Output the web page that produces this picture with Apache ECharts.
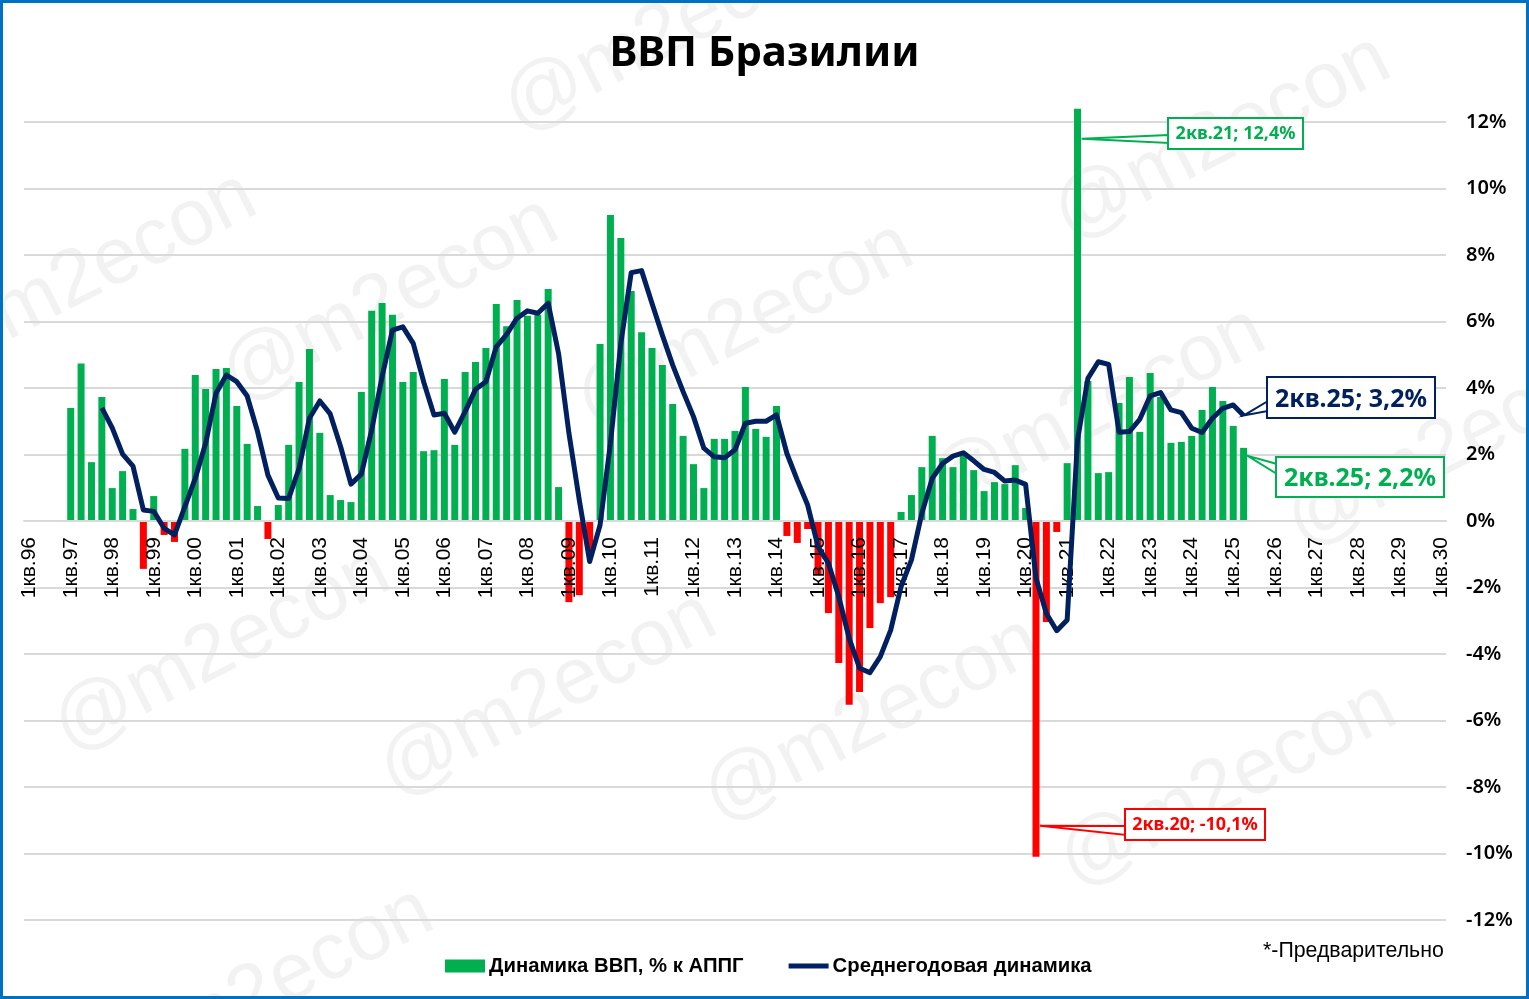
<!DOCTYPE html>
<html>
<head>
<meta charset="utf-8">
<style>
  html, body { margin: 0; padding: 0; background: #fff; }
  #chart { width: 1529px; height: 999px; }
</style>
<script src="https://cdn.jsdelivr.net/npm/echarts@6/dist/echarts.min.js"></script>
</head>
<body>
<div id="chart"></div>
<script>
// quarters 1кв.96 .. 1кв.30
var firstYear = 96;
var quarterCount = 137;
var categories = [];
for (var i = 0; i < quarterCount; i++) {
  var yy = (firstYear + Math.floor(i / 4)) % 100;
  categories.push((i % 4 + 1) + 'кв.' + (yy < 10 ? '0' + yy : yy));
}
var firstBarIndex = 4;   // 1кв.97
var firstLineIndex = 7;  // 4кв.97

var gdpYoY = [
  3.4, 4.74, 1.77, 3.73,
  0.99, 1.5, 0.36, -1.44,
  0.75, -0.42, -0.63, 2.17,
  4.39, 3.97, 4.57, 4.6,
  3.46, 2.32, 0.45, -0.54,
  0.48, 2.29, 4.18, 5.17,
  2.65, 0.78, 0.63, 0.57,
  3.88, 6.32, 6.56, 6.2,
  4.18, 4.48, 2.1, 2.13,
  4.27, 2.29, 4.48, 4.78,
  5.2, 6.53, 5.86, 6.65,
  6.17, 6.2, 6.98, 1.02,
  -2.44, -2.23, -0.9, 5.32,
  9.2, 8.51, 6.92, 5.68,
  5.2, 4.69, 3.52, 2.56,
  1.71, 0.99, 2.47, 2.47,
  2.71, 4.03, 2.77, 2.53,
  3.46, -0.45, -0.66, -0.24,
  -1.62, -2.77, -4.27, -5.53,
  -5.14, -3.22, -2.47, -2.29,
  0.27, 0.78, 1.62, 2.56,
  1.89, 1.62, 1.98, 1.53,
  0.9, 1.17, 1.11, 1.68,
  0.39, -10.1, -3.04, -0.33,
  1.74, 12.4, 4.21, 1.44,
  1.47, 3.55, 4.33, 2.68,
  4.45, 3.73, 2.35, 2.38,
  2.56, 3.34, 4.03, 3.61,
  2.86, 2.2
];

var gdpAvg = [
  3.4,
  2.8, 2.01, 1.65, 0.33,
  0.29, -0.22, -0.42, 0.43,
  1.28, 2.34, 3.84, 4.39,
  4.19, 3.76, 2.69, 1.38,
  0.69, 0.68, 1.58, 3.09,
  3.61, 3.22, 2.24, 1.11,
  1.41, 2.74, 4.34, 5.74,
  5.84, 5.34, 4.19, 3.19,
  3.24, 2.67, 3.29, 3.96,
  4.19, 5.24, 5.61, 6.1,
  6.32, 6.25, 6.55, 5.04,
  2.64, 0.63, -1.22, -0.12,
  2.34, 5.34, 7.47, 7.53,
  6.55, 5.59, 4.69, 3.89,
  3.14, 2.19, 1.93, 1.9,
  2.14, 2.94, 3.0, 3.0,
  3.19, 2.03, 1.23, 0.48,
  -0.77, -1.27, -2.28, -3.53,
  -4.43, -4.56, -4.08, -3.28,
  -1.97, -1.17, 0.23, 1.28,
  1.73, 1.95, 2.05, 1.81,
  1.55, 1.46, 1.2, 1.23,
  1.1, -1.72, -2.78, -3.3,
  -2.98, 2.44, 4.29, 4.79,
  4.71, 2.67, 2.69, 3.06,
  3.76, 3.86, 3.34, 3.26,
  2.79, 2.66, 3.09, 3.39,
  3.49, 3.17
];

// watermark centres on the sheet
var watermarks = [
  [672, 30], [88, 275], [1222, 138], [390, 300], [745, 325],
  [1097, 410], [1455, 445], [222, 650], [548, 695], [872, 720], [1228, 785], [265, 990]
];

var GREEN = '#00b050', RED = '#ff0000', NAVY = '#002060';
var barData = categories.map(function(c, i) {
  var v = gdpYoY[i - firstBarIndex];
  if (v === undefined) return null;
  return { value: v, itemStyle: { color: v < 0 ? RED : GREEN } };
});
var lineData = categories.map(function(c, i) {
  var v = gdpAvg[i - firstLineIndex];
  return v === undefined ? null : v;
});

var chart = echarts.init(document.getElementById('chart'), null, { renderer: 'canvas' });
var grid = { left: 24, right: 83, top: 122, bottom: 79 };

chart.setOption({
  animation: false,
  backgroundColor: '#ffffff',
  textStyle: { fontFamily: 'Liberation Sans' },
  title: {
    text: 'ВВП Бразилии',
    left: 'center',
    top: 28,
    textStyle: { fontFamily: 'Noto Sans', fontWeight: 'bold', fontSize: 42, color: '#000' }
  },
  legend: {
    left: 440,
    top: 951,
    itemGap: 45,
    itemWidth: 40,
    itemHeight: 13,
    textStyle: { fontFamily: 'Liberation Sans', fontWeight: 'bold', fontSize: 20.3, color: '#000', padding: [0, 0, 0, -1] },
    data: [
      { name: 'Динамика ВВП, % к АППГ', itemStyle: { color: GREEN }, icon: 'rect' },
      { name: 'Среднегодовая динамика', icon: 'path://M0 0 L40 0 L40 5 L0 5 Z', itemStyle: { color: NAVY } }
    ]
  },
  grid: grid,
  xAxis: {
    type: 'category',
    data: categories,
    offset: -399, // labels sit under the zero line
    z: 3,         // black labels stay readable over the red bars
    axisLine: { onZero: false, lineStyle: { color: '#d9d9d9', width: 2 } },
    axisTick: { show: false },
    splitLine: { show: false },
    axisLabel: { interval: 3, rotate: 90, margin: 16, fontSize: 21, color: '#000', fontFamily: 'Liberation Sans', padding: [3, 0, 0, 0] }
  },
  yAxis: {
    type: 'value',
    position: 'right',
    min: -12,
    max: 12,
    interval: 2,
    axisLine: { show: false },
    axisTick: { show: false },
    splitLine: { lineStyle: { color: '#d9d9d9', width: 2 } },
    axisLabel: { margin: 20, fontSize: 20, fontWeight: 600, fontFamily: 'Noto Sans', color: '#000', align: 'left', padding: [3, 0, 0, 0], formatter: '{value}%' }
  },
  series: [
    {
      name: 'Динамика ВВП, % к АППГ',
      type: 'bar',
      barWidth: 7,
      clip: false,
      itemStyle: { color: GREEN },
      data: barData
    },
    {
      name: 'Среднегодовая динамика',
      type: 'line',
      symbol: 'none',
      clip: false,
      connectNulls: false,
      lineStyle: { color: NAVY, width: 5, join: 'round' },
      data: lineData,
      z: 5
    }
  ]
});

// callout: wedge from a data point to the text box
function callout(index, value, tipDx, tipDy, box, wedge, text, color, fontSize) {
  var p = chart.convertToPixel({ seriesIndex: 0 }, [categories[index], value]);
  var tip = [p[0] + tipDx, p[1] + tipDy];
  return [
    {
      type: 'polygon', z: 20,
      shape: { points: [[box.x + 1, wedge[0]], tip, [box.x + 1, wedge[1]]] },
      style: { fill: '#fff', stroke: color, lineWidth: 2 }
    },
    {
      type: 'rect', z: 21,
      shape: { x: box.x, y: box.y, width: box.w, height: box.h },
      style: { fill: '#fff', stroke: color, lineWidth: 2 }
    },
    {
      type: 'text', z: 22,
      x: box.x + box.w / 2, y: box.y + box.h / 2 + (fontSize > 20 ? 2 : 0),
      style: {
        text: text, fill: color, align: 'center', verticalAlign: 'middle',
        font: 'bold ' + fontSize + 'px "Noto Sans"'
      }
    }
  ];
}

var i21 = categories.indexOf('2кв.21'), i20 = categories.indexOf('2кв.20'), i25 = categories.indexOf('2кв.25');
var elements = [
  // outer frame
  { type: 'rect', z: 30, shape: { x: 1.5, y: 1.5, width: 1526, height: 996 }, style: { fill: 'none', stroke: '#0070c0', lineWidth: 3 } },
  {
    type: 'text', z: 20, x: 1263, y: 951,
    style: { text: '*-Предварительно', fill: '#000', verticalAlign: 'middle', font: '21.3px "Liberation Sans"' }
  }
];
watermarks.forEach(function(w) {
  elements.push({
    type: 'text', z: -1, x: w[0], y: w[1], rotation: 27 * Math.PI / 180,
    style: { text: '@m2econ', fill: '#f2f2f2', align: 'center', verticalAlign: 'middle', font: '80px "Liberation Sans"' }
  });
});
elements = elements
  .concat(callout(i21, 12.4, 4, 30, { x: 1168, y: 118, w: 135, h: 31 }, [135, 143], '2кв.21; 12,4%', GREEN, 18))
  .concat(callout(i20, -10.1, 4, -31, { x: 1125, y: 809, w: 140, h: 31 }, [826, 835], '2кв.20; -10,1%', RED, 18))
  .concat(callout(i25, gdpAvg[gdpAvg.length - 1], 0, 0, { x: 1267, y: 377, w: 168, h: 41 }, [401, 411], '2кв.25; 3,2%', NAVY, 25))
  .concat(callout(i25, gdpYoY[gdpYoY.length - 1], 4, 8, { x: 1276, y: 457, w: 168, h: 40 }, [464, 474], '2кв.25; 2,2%', GREEN, 25));

chart.setOption({ graphic: { elements: elements } });
</script>
</body>
</html>
